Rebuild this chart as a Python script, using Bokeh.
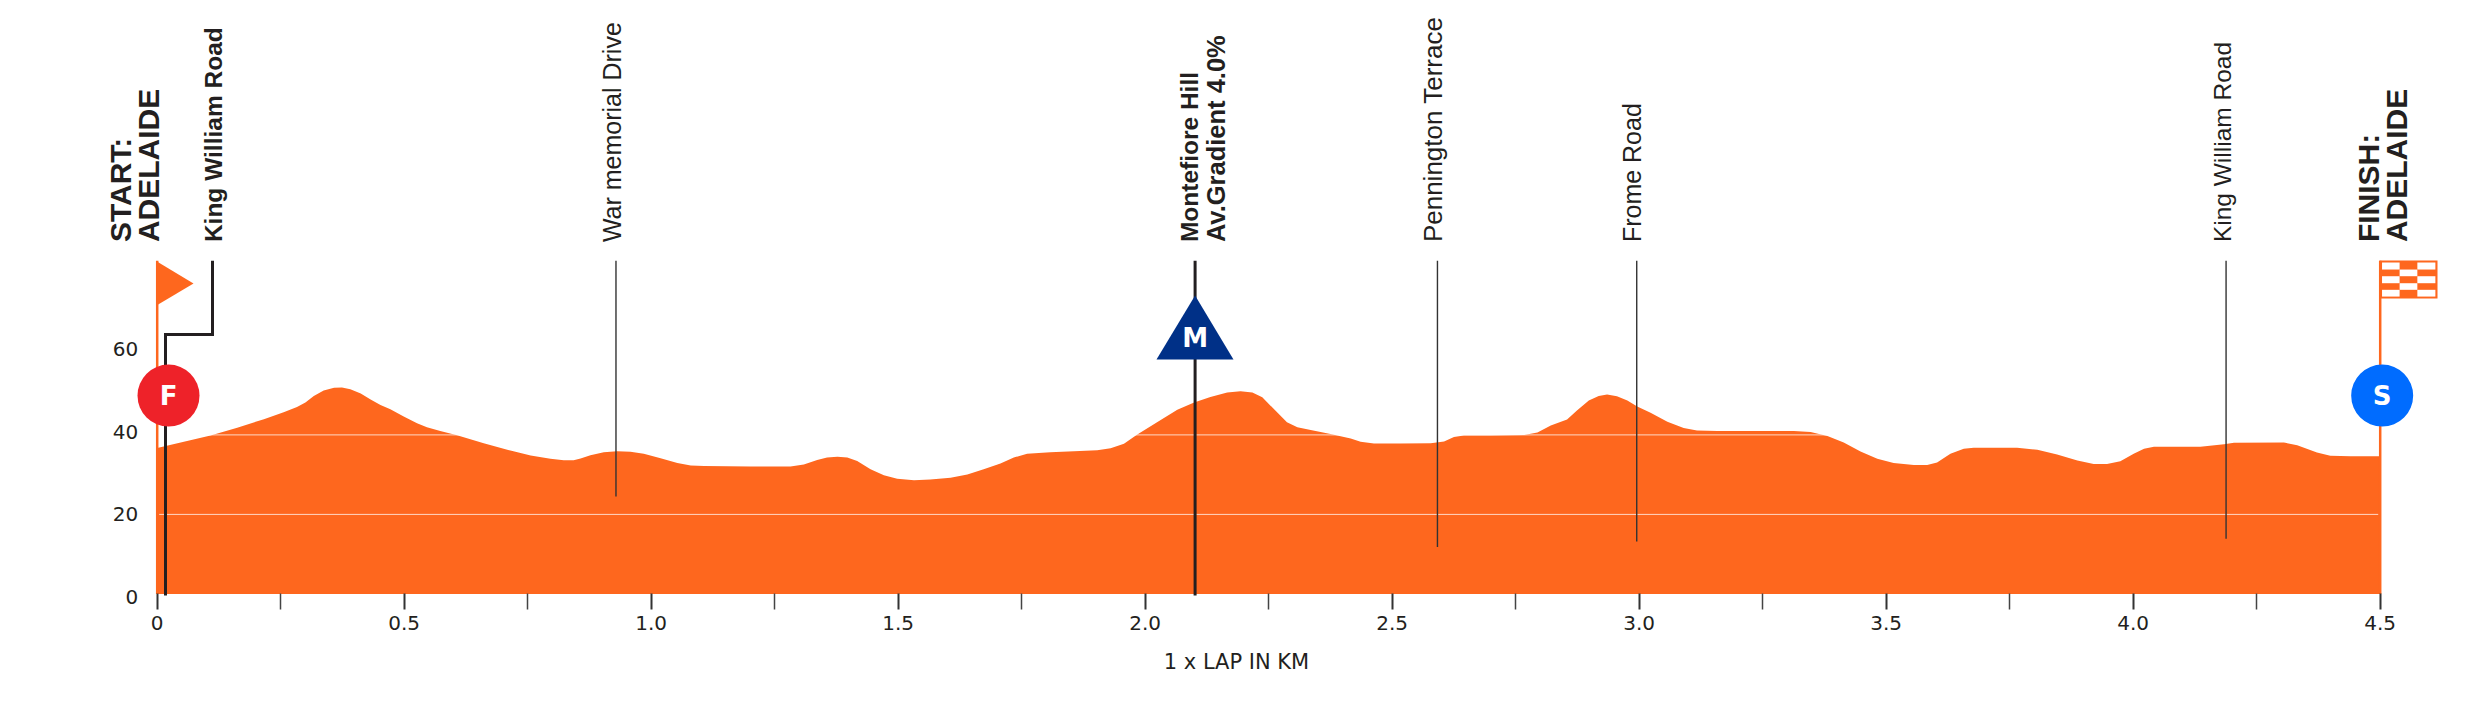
from bokeh.plotting import figure
from bokeh.embed import file_html
from bokeh.resources import INLINE
from bokeh.core.properties import value
from bokeh.models import Range1d, LinearAxis, FixedTicker
import math

km = [0.000,0.054,0.108,0.162,0.216,0.256,0.283,0.300,0.317,0.337,0.358,0.374,0.391,0.412,0.432,0.452,0.472,0.499,0.526,0.546,0.573,0.607,0.661,0.715,0.756,0.796,
      0.823,0.843,0.857,0.877,0.904,0.931,0.958,0.985,1.019,1.053,1.080,1.107,1.201,1.282,1.309,1.336,1.356,1.377,1.397,1.417,1.444,1.471,1.498,1.532,1.565,1.606,
      1.640,1.673,1.707,1.734,1.761,1.808,1.856,1.903,1.930,1.957,1.984,2.024,2.065,2.099,2.132,2.166,2.193,2.217,2.237,2.260,2.287,2.308,2.335,2.375,2.416,
      2.436,2.463,2.517,2.578,2.605,2.625,2.645,2.699,2.767,2.794,2.821,2.854,2.874,2.898,2.918,2.935,2.955,2.976,2.996,3.023,3.057,3.090,3.117,3.158,3.225,
      3.313,3.347,3.381,3.414,3.448,3.482,3.515,3.556,3.583,3.603,3.630,3.657,3.677,3.765,3.806,3.846,3.887,3.920,3.947,3.974,4.001,4.022,4.042,
      4.136,4.184,4.204,4.305,4.332,4.372,4.399,4.440,4.500]
elevation = [36.7,38.25,39.85,41.8,43.95,45.7,47.0,48.15,49.8,51.2,51.85,51.9,51.5,50.4,48.9,47.55,46.45,44.6,42.95,41.95,41.0,39.9,37.9,36.05,34.8,34.0,
      33.65,33.65,34.05,34.9,35.65,35.9,35.75,35.25,34.15,32.95,32.3,32.15,32.05,32.05,32.55,33.7,34.3,34.5,34.3,33.45,31.35,29.85,28.95,28.6,28.8,29.2,
      30.05,31.35,32.8,34.3,35.25,35.65,35.9,36.15,36.65,37.75,40.1,43.2,46.3,48.15,49.55,50.65,51.0,50.65,49.5,46.55,43.2,41.95,41.25,40.25,39.1,
      38.25,37.85,37.85,37.9,38.35,39.45,39.85,39.85,39.95,40.6,42.35,43.85,46.15,48.65,49.8,50.15,49.75,48.65,47.15,45.55,43.3,41.75,41.1,41.0,41.0,
      41.0,40.7,39.75,38.1,35.8,34.0,32.95,32.45,32.45,33.05,35.25,36.5,36.75,36.75,36.25,35.05,33.55,32.7,32.65,33.4,35.25,36.5,37.0,
      37.0,37.65,38.0,38.1,37.4,35.55,34.75,34.65,34.65]

x_major = [0.0, 0.5, 1.0, 1.5, 2.0, 2.5, 3.0, 3.5, 4.0, 4.5]
x_minor = [0.25, 0.75, 1.25, 1.75, 2.25, 2.75, 3.25, 3.75, 4.25]
y_ticks = [0, 20, 40, 60]
grid_levels = [20, 40]

thin_names = ["War memorial Drive", "Pennington Terrace", "Frome Road", "King William Road"]
thin_km = [0.9287, 2.5916, 2.995, 4.188]
thin_bottom = [24.5, 11.8, 13.2, 13.9]
thin_label_km = [0.9399, 2.6028, 3.0057, 4.2004]
thin_sizes = ["25px", "26px", "25px", "24.5px"]

bold_names = ["King William Road", "Montefiore Hill", "Av.Gradient 4.0%"]
bold_label_km = [0.1332, 2.1109, 2.1645]
bold_sizes = ["24.5px", "24.5px", "25.5px"]
place_names = ["START:", "ADELAIDE", "FINISH:", "ADELAIDE"]
place_label_km = [-0.054, 0.0026, 4.4966, 4.5526]

top_elev = 83.8
label_elev = 88.5

ORANGE = "#FE671E"
INK = "#231F20"

x0_px, y0_px, x_scale, y_scale = 156.7, 593.4, 494.0, 3.975
W, H = 2472, 700
p = figure(width=W, height=H, output_backend="svg", toolbar_location=None,
           x_range=Range1d(-x0_px / x_scale, (W - x0_px) / x_scale),
           y_range=Range1d((y0_px - H) / y_scale, y0_px / y_scale),
           x_axis_type=None, y_axis_type=None, min_border=0, outline_line_color=None,
           background_fill_color="white", border_fill_color="white")
p.grid.visible = False

# axes
xa = LinearAxis(fixed_location=0, axis_line_color=None,
                ticker=FixedTicker(ticks=x_major, minor_ticks=x_minor),
                major_tick_in=0, major_tick_out=16, minor_tick_in=0, minor_tick_out=16,
                major_tick_line_color="#333333", major_tick_line_width=2,
                minor_tick_line_color="#444444", minor_tick_line_width=1.5,
                major_label_overrides={v: ("0" if v == 0 else f"{v:.1f}") for v in x_major},
                major_label_text_font="DejaVu Sans", major_label_text_font_size="20px",
                major_label_text_color=INK, major_label_standoff=6,
                axis_label="1 x LAP IN KM", axis_label_text_font="DejaVu Sans",
                axis_label_text_font_size="21px", axis_label_text_font_style="normal",
                axis_label_text_color=INK, axis_label_standoff=17)
p.add_layout(xa, "below")

ly = 596.5
p.extra_y_ranges["labels"] = Range1d((ly - H) / 4.128, ly / 4.128)
ya = LinearAxis(y_range_name="labels", fixed_location=0, axis_line_color=None,
                ticker=FixedTicker(ticks=y_ticks, minor_ticks=[]),
                major_tick_line_color=None, minor_tick_line_color=None,
                major_tick_in=0, major_tick_out=0,
                major_label_text_font="DejaVu Sans", major_label_text_font_size="20px",
                major_label_text_color=INK, major_label_standoff=19)
p.add_layout(ya, "left")

# profile
p.varea(x=km, y1=[0] * len(km), y2=elevation, fill_color=ORANGE)
p.segment(x0=[0.004] * len(grid_levels), x1=[4.496] * len(grid_levels), y0=grid_levels, y1=grid_levels,
          line_color="white", line_width=1, line_alpha=0.75)

# poles and start flag
p.segment(x0=[0, 4.5], x1=[0, 4.5], y0=[0, 0], y1=[top_elev, top_elev], line_color=ORANGE, line_width=2.5)
p.patch(x=[-0.0014, 0.0735, -0.0014], y=[83.7, 78.1, 72.55], fill_color=ORANGE, line_color=None)

# finish flag
p.quad(left=[4.4986], right=[4.6160], top=[83.87], bottom=[74.3], fill_color=ORANGE, line_color=None)
col_edges = [4.5037, 4.5393, 4.5752, 4.6117]
row_edges = [83.37, 81.6, 79.92, 78.16, 76.5, 74.8]
cells = [(c, r) for r in range(5) for c in range(3) if (c + r) % 2 == 0]
p.quad(left=[col_edges[c] for c, r in cells], right=[col_edges[c + 1] for c, r in cells],
       top=[row_edges[r] for c, r in cells], bottom=[row_edges[r + 1] for c, r in cells],
       fill_color="white", line_color=None)

# leader lines
p.line(x=[0.0168, 0.0168, 0.112, 0.112], y=[-0.4, 65.25, 65.25, top_elev],
       line_color=INK, line_width=3, line_join="miter")
p.segment(x0=[2.101], x1=[2.101], y0=[-0.4], y1=[top_elev], line_color=INK, line_width=3)
p.segment(x0=thin_km, x1=thin_km, y0=thin_bottom, y1=[top_elev] * len(thin_km), line_color="#333333", line_width=1.4)

# markers
p.patch(x=[2.0229, 2.101, 2.1787], y=[58.97, 75.07, 58.97], fill_color="#003087", line_color=None)
p.scatter(x=[0.0229], y=[49.9], size=62, marker="circle", fill_color="#EE2229", line_color=None)
p.scatter(x=[4.504], y=[49.9], size=62, marker="circle", fill_color="#006CFF", line_color=None)
p.text(x=[0.0229, 4.504, 2.101], y=[49.9, 49.9, 64.3], text=["F", "S", "M"], text_color="white",
       text_font=value("DejaVu Sans"), text_font_style="bold", text_font_size="26px",
       text_align="center", text_baseline="middle")

# rotated labels
rot = dict(angle=math.pi / 2, text_align="left", text_baseline="alphabetic", x_offset=-10)
p.text(x=place_label_km, y=[label_elev] * 4, text=place_names, text_color=INK,
       text_font=value("Liberation Sans"), text_font_style="bold", text_font_size="30px", **rot)
p.text(x=bold_label_km, y=[label_elev] * 3, text=bold_names, text_color=INK,
       text_font=value("Liberation Sans"), text_font_style="bold", text_font_size=bold_sizes, **rot)
p.text(x=thin_label_km, y=[label_elev] * 4, text=thin_names, text_color=INK,
       text_font=value("Liberation Sans"), text_font_size=thin_sizes, **rot)

open("out.html", "w").write(file_html(p, INLINE))
